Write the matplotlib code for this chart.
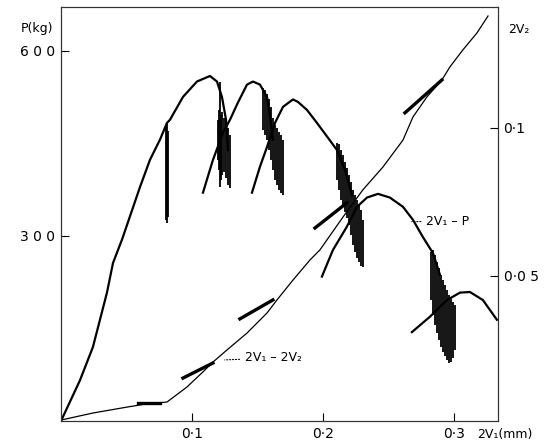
import matplotlib
matplotlib.use("Agg")
import matplotlib.pyplot as plt

# ---- 2V1 - P curve (load vs displacement), one list per loading branch ----
seg1_x = [0.0, 0.0145, 0.0244, 0.0351, 0.0397, 0.0466, 0.0603, 0.0679, 0.0756, 0.0809,
          0.0832, 0.0931, 0.1038, 0.1137, 0.1191, 0.1229, 0.1260, 0.1275]
seg1_p = [0, 66, 120, 208, 256, 294, 379, 423, 456, 483,
          488, 525, 550, 559, 550, 525, 488, 439]

seg2_x = [0.1084, 0.1160, 0.1237, 0.1290, 0.1351, 0.1420, 0.1466, 0.1519, 0.1573, 0.1595, 0.1618]
seg2_p = [370, 423, 467, 488, 516, 545, 550, 545, 525, 496, 456]

seg3_x = [0.1458, 0.1519, 0.1573, 0.1634, 0.1695, 0.1771, 0.1809, 0.1878, 0.1954, 0.2031,
          0.2107, 0.2168, 0.2221]
seg3_p = [370, 412, 444, 483, 509, 521, 517, 504, 483, 461,
          439, 407, 366]

seg4_x = [0.1992, 0.2076, 0.2183, 0.2260, 0.2336, 0.2420, 0.2511, 0.2611, 0.2687, 0.2763,
          0.2840, 0.2893]
seg4_p = [234, 277, 315, 347, 362, 368, 362, 347, 326, 298,
          272, 237]

seg5_x = [0.2679, 0.2817, 0.2947, 0.3046, 0.3122, 0.3221, 0.3328]
seg5_p = [144, 169, 196, 208, 209, 196, 164]

p_branches = [(seg1_x, seg1_p), (seg2_x, seg2_p), (seg3_x, seg3_p),
              (seg4_x, seg4_p), (seg5_x, seg5_p)]

# ---- vertical hatching where the load cycles (x, top, bottom) ----
hatch0_x = [0.0800, 0.0810, 0.0818]
hatch0_top = [480, 483, 470]
hatch0_bot = [325, 321, 330]

hatch1_x = [0.1198, 0.1206, 0.1214, 0.1221, 0.1229, 0.1244, 0.1260, 0.1275, 0.1290]
hatch1_top = [488, 504, 550, 496, 501, 491, 485, 475, 464]
hatch1_bot = [423, 407, 379, 391, 399, 404, 394, 383, 378]

hatch2_x = [0.1542, 0.1557, 0.1573, 0.1588, 0.1603, 0.1618, 0.1634, 0.1649, 0.1664, 0.1679, 0.1695]
hatch2_top = [540, 537, 529, 521, 508, 491, 480, 475, 469, 464, 456]
hatch2_bot = [472, 464, 456, 439, 423, 407, 391, 383, 375, 370, 366]

hatch3_x = [0.2107, 0.2122, 0.2137, 0.2153, 0.2168, 0.2183, 0.2198, 0.2214, 0.2229, 0.2244,
            0.2260, 0.2275, 0.2290, 0.2305]
hatch3_top = [451, 448, 439, 431, 420, 410, 399, 388, 375, 366, 358, 350, 342, 326]
hatch3_bot = [391, 375, 358, 350, 339, 329, 318, 302, 285, 274, 264, 258, 251, 250]

hatch4_x = [0.2824, 0.2840, 0.2855, 0.2870, 0.2885, 0.2901, 0.2916, 0.2931, 0.2947, 0.2962,
            0.2977, 0.2992, 0.3008]
hatch4_top = [274, 277, 269, 258, 248, 237, 229, 221, 212, 204, 199, 193, 188]
hatch4_bot = [196, 172, 156, 143, 131, 120, 112, 105, 99, 94, 96, 102, 115]

hatches = [(hatch0_x, hatch0_top, hatch0_bot), (hatch1_x, hatch1_top, hatch1_bot),
           (hatch2_x, hatch2_top, hatch2_bot), (hatch3_x, hatch3_top, hatch3_bot),
           (hatch4_x, hatch4_top, hatch4_bot)]

# ---- 2V1 - 2V2 curve (right axis) ----
v_x = [0.0008, 0.0244, 0.0504, 0.0656, 0.0809, 0.0962, 0.1084, 0.1160, 0.1267, 0.1420,
       0.1573, 0.1649, 0.1771, 0.1901, 0.1977, 0.2153, 0.2305, 0.2458, 0.2611, 0.2687,
       0.2794, 0.2908, 0.2969, 0.3069, 0.3176, 0.3260]
v_2v2 = [0.0014, 0.0037, 0.0057, 0.0068, 0.0074, 0.0125, 0.0176, 0.0209, 0.0250, 0.0307,
         0.0375, 0.0419, 0.0486, 0.0554, 0.0588, 0.0699, 0.0791, 0.0868, 0.0959, 0.1037,
         0.1105, 0.1162, 0.1206, 0.1264, 0.1321, 0.1378]

# short unloading branches on the 2V2 curve
loop_x = [[0.0588, 0.0756], [0.0931, 0.1160], [0.1366, 0.1618],
          [0.1939, 0.2183], [0.2626, 0.2908]]
loop_v = [[0.0071, 0.0071], [0.0155, 0.0206], [0.0355, 0.0419],
          [0.0662, 0.0747], [0.1051, 0.1162]]

fig = plt.figure(figsize=(5.46, 4.42), dpi=100)
ax = fig.add_axes([0.1117, 0.0475, 0.8003, 0.937])
ax2 = ax.twinx()

for xs, ps in p_branches:
    ax.plot(xs, ps, color="black", lw=1.6)
for xs, tops, bots in hatches:
    ax.vlines(xs, bots, tops, color="black", lw=1.3)

ax2.plot(v_x, v_2v2, color="black", lw=0.9)
for xs, vs in zip(loop_x, loop_v):
    ax2.plot(xs, vs, color="black", lw=2.4)

ax.set_xlim(0, 0.3336)
ax.set_ylim(0, 671)
ax2.set_ylim(0.001, 0.1409)

ax.set_xticks([0.1, 0.2, 0.3])
ax.set_xticklabels(["0·1", "0·2", "0·3"])
ax.set_yticks([300, 600])
ax.set_yticklabels(["3 0 0", "6 0 0"])
ax2.set_yticks([0.05, 0.1])
ax2.set_yticklabels(["0·0 5", "0·1"])

for a in (ax, ax2):
    a.tick_params(direction="in", length=6, width=0.8, labelsize=10, pad=4)
    for s in a.spines.values():
        s.set_linewidth(0.8)
        s.set_color("#333333")

# axis titles placed as in the original figure
fig.text(0.038, 0.928, "P(kg)", fontsize=9)
fig.text(0.930, 0.925, "2V₂", fontsize=9)
fig.text(0.873, 0.008, "2V₁(mm)", fontsize=9)

# curve labels with dotted leaders
ax.annotate("2V₁ – P", xy=(0.2657, 323), xytext=(0.2790, 323),
            fontsize=9, va="center",
            arrowprops=dict(arrowstyle="-", ls=":", lw=0.8, color="black"))
ax2.annotate("2V₁ – 2V₂", xy=(0.1229, 0.0216), xytext=(0.1405, 0.0223),
             fontsize=9, va="center",
             arrowprops=dict(arrowstyle="-", ls=":", lw=0.8, color="black"))

plt.savefig("out.png", dpi=100)
